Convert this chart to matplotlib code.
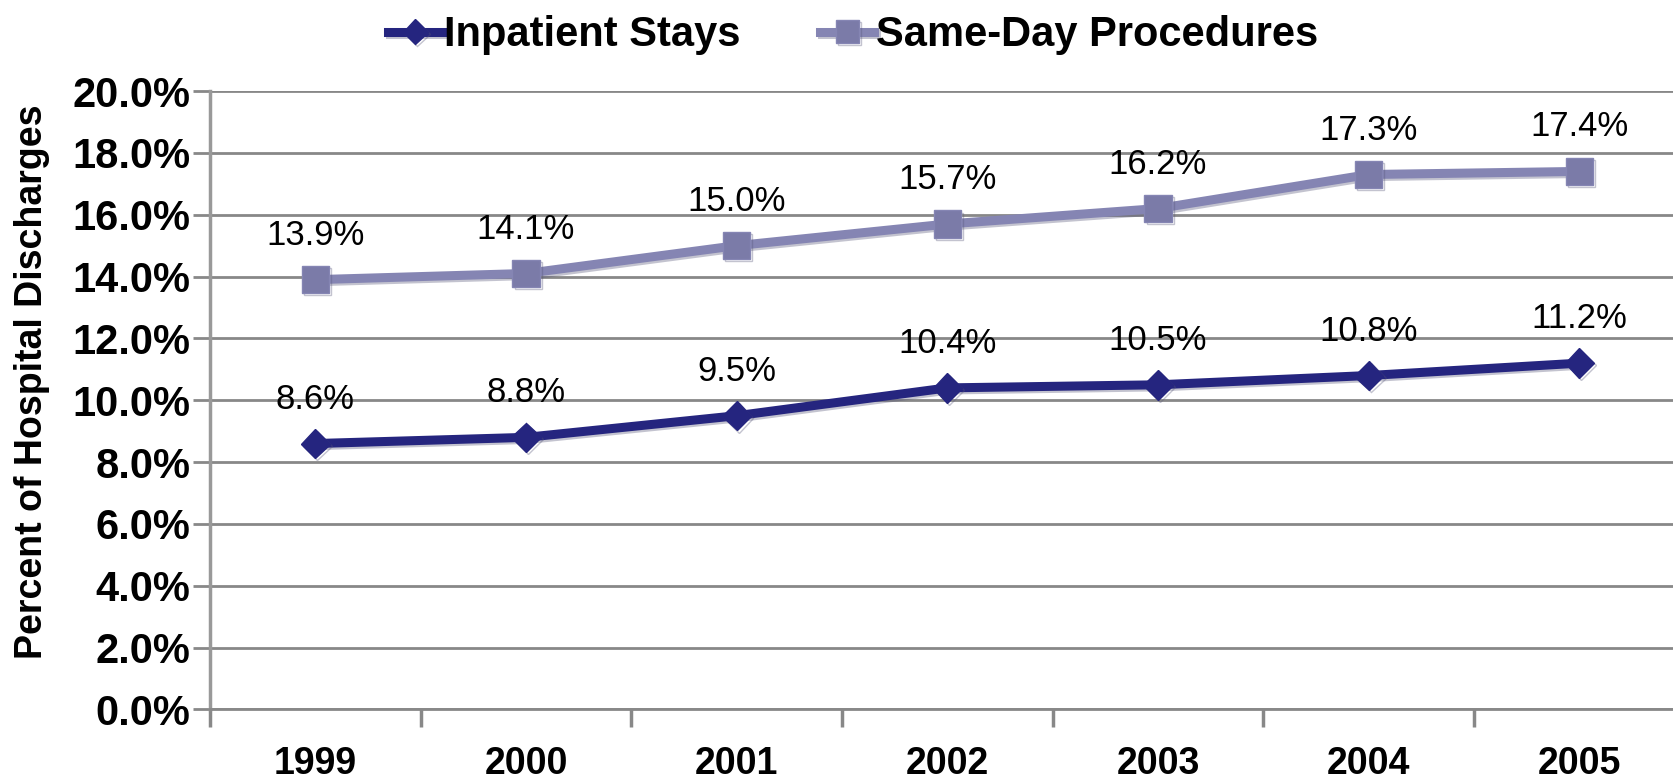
import matplotlib
matplotlib.use("Agg")
import matplotlib.pyplot as plt
import matplotlib.patheffects as pe
from matplotlib.ticker import FixedLocator, FuncFormatter

years = ["1999", "2000", "2001", "2002", "2003", "2004", "2005"]
inpatient = [8.6, 8.8, 9.5, 10.4, 10.5, 10.8, 11.2]
same_day = [13.9, 14.1, 15.0, 15.7, 16.2, 17.3, 17.4]
yticks = [0, 2, 4, 6, 8, 10, 12, 14, 16, 18, 20]

plt.rcParams['font.family'] = ['Liberation Sans', 'DejaVu Sans']

fig = plt.figure(figsize=(16.73, 7.80), dpi=100)
ax = fig.add_axes([0.1255, 0.0904, 0.8815, 0.7929])

x = list(range(len(years)))
c_in = "#25257f"
c_sd = "#8585b3"
shadow = [pe.SimpleLineShadow(offset=(1.5, -1.5), shadow_color="#555577", alpha=0.35), pe.Normal()]

ax.plot(x, same_day, color=c_sd, lw=6.5, marker="s", ms=19.5, mec=c_sd, mfc="#7b7ba8",
        label="Same-Day Procedures", zorder=3, path_effects=shadow)
ax.plot(x, inpatient, color=c_in, lw=6.5, marker="D", ms=15, mec=c_in, mfc=c_in,
        label="Inpatient Stays", zorder=3, path_effects=shadow)

for xi, v in zip(x, same_day):
    ax.annotate(f"{v:.1f}%", (xi, v), xytext=(0, 32), textcoords="offset points",
                ha="center", va="center", fontsize=25, color="black")
for xi, v in zip(x, inpatient):
    ax.annotate(f"{v:.1f}%", (xi, v), xytext=(0, 32), textcoords="offset points",
                ha="center", va="center", fontsize=25, color="black")

ax.set_xlim(-0.5, 6.5)
ax.set_ylim(0, 20)
ax.yaxis.set_major_locator(FixedLocator(yticks))
ax.yaxis.set_major_formatter(FuncFormatter(lambda v, p: f"{v:.1f}%"))
ax.set_xticks(x)
ax.set_xticklabels(years)
ax.set_xticks([i - 0.5 for i in range(len(years) + 1)], minor=True)
ax.tick_params(axis="x", which="major", length=0, pad=26, labelsize=27)
ax.tick_params(axis="x", which="minor", length=13, width=2.5, color="#888888", direction="out")
ax.tick_params(axis="y", which="major", length=12, width=2, color="#888888", pad=2, labelsize=30)
for lab in ax.get_xticklabels() + ax.get_yticklabels():
    lab.set_fontweight("bold")

ax.grid(axis="y", color="#888888", lw=2)
ax.set_axisbelow(True)
for s in ["top", "right"]:
    ax.spines[s].set_visible(False)
ax.spines["left"].set_color("#999999")
ax.spines["left"].set_linewidth(2.5)
ax.spines["bottom"].set_color("#888888")
ax.spines["bottom"].set_linewidth(2)

ax.set_ylabel("Percent of Hospital Discharges", fontsize=27, fontweight="bold")
ax.yaxis.set_label_coords(-0.1085, 0.53)

handles, labels = ax.get_legend_handles_labels()
leg = fig.legend(handles[::-1], labels[::-1], loc="center", bbox_to_anchor=(0.51, 0.955),
                 ncol=2, frameon=False, prop={"size": 30, "weight": "bold"},
                 handlelength=1.3, handletextpad=0.05, columnspacing=1.9, markerscale=0.85)

fig.savefig("out.png", dpi=100)
